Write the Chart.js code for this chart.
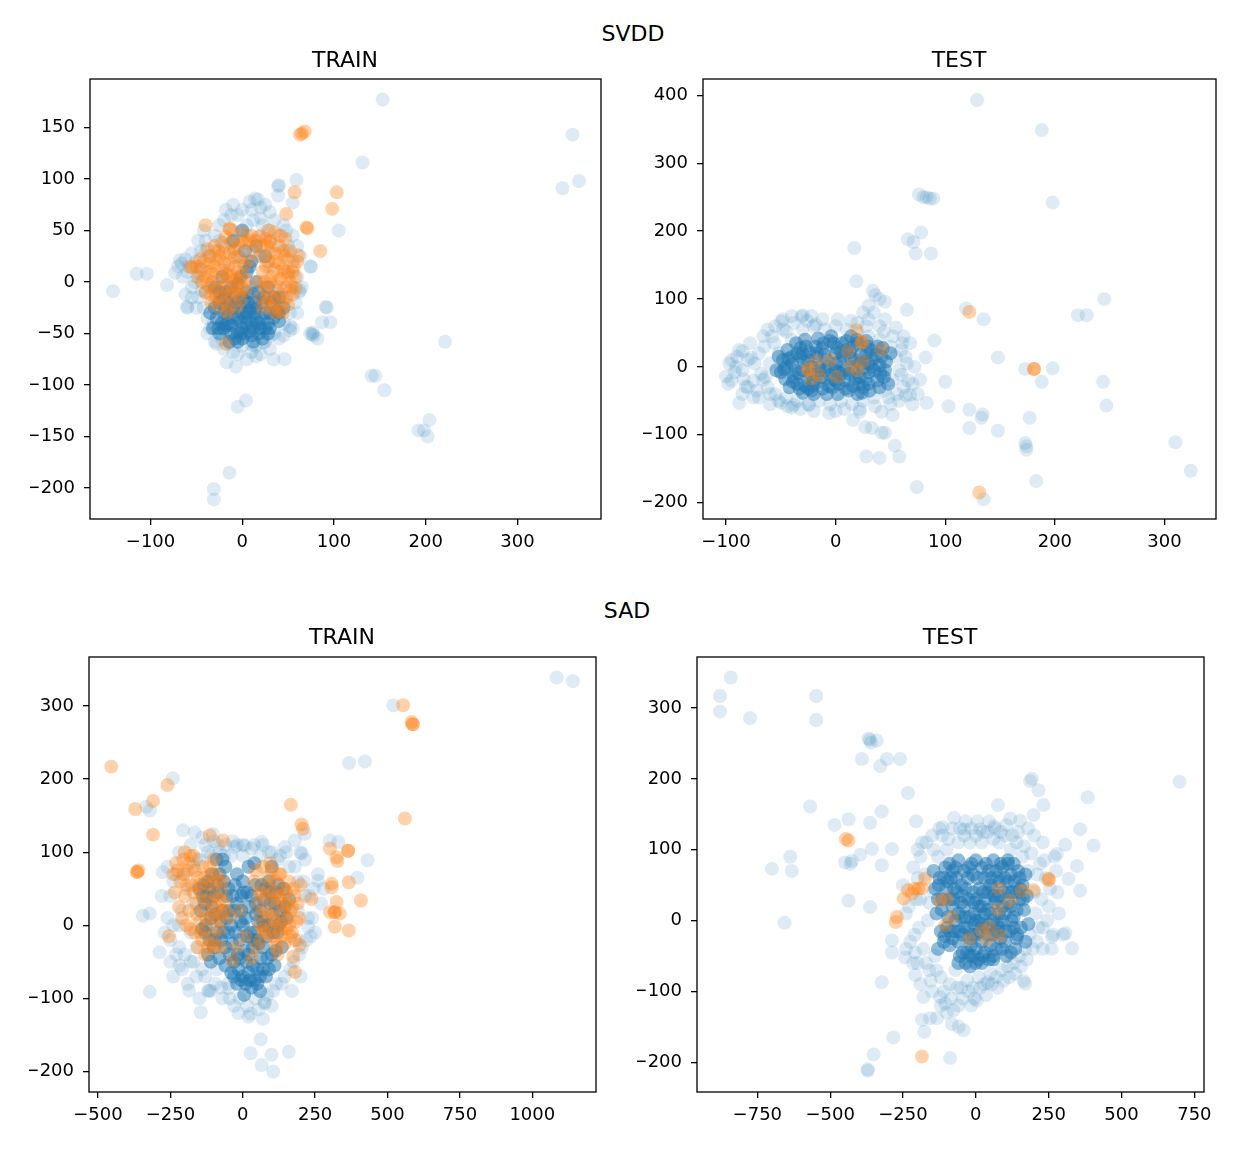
<!DOCTYPE html>
<html>
<head>
<meta charset="utf-8">
<script src="https://cdn.jsdelivr.net/npm/chart.js@4.4.1/dist/chart.umd.min.js"></script>
<style>
  body { margin: 0; background: #fff; font-family: 'DejaVu Sans', sans-serif; }
  #fig { position: relative; width: 1252px; height: 1174px; }
  .panel { position: absolute; }
  .ttl { position: absolute; font-size: 22px; line-height: 22px; color: #000; transform: translateX(-50%); white-space: nowrap; z-index: 2; }
</style>
</head>
<body>
<div id="fig">
  <div class="ttl" style="left:633px;top:23px">SVDD</div>
  <div class="ttl" style="left:345px;top:49px">TRAIN</div>
  <div class="ttl" style="left:959px;top:49px">TEST</div>
  <div class="ttl" style="left:627px;top:600px">SAD</div>
  <div class="ttl" style="left:342px;top:626px">TRAIN</div>
  <div class="ttl" style="left:950px;top:626px">TEST</div>

  <div class="panel" style="left:30px;top:59px;width:593px;height:495px"><canvas id="svddTrain"></canvas></div>
  <div class="panel" style="left:643px;top:59px;width:595px;height:495px"><canvas id="svddTest"></canvas></div>
  <div class="panel" style="left:29px;top:637px;width:589px;height:490px"><canvas id="sadTrain"></canvas></div>
  <div class="panel" style="left:637px;top:637px;width:589px;height:490px"><canvas id="sadTest"></canvas></div>
</div>
<script>
// ---- SVDD / TRAIN ----
const svddTrainXRange = [-166, 391];
const svddTrainYRange = [-230, 197];
const svddTrainXTicks = [-100, 0, 100, 200, 300];
const svddTrainYTicks = [-200, -150, -100, -50, 0, 50, 100, 150];
const svddTrainSpread = [
  [153,177],[360,143],[367,98],[349,91],[131,116],[105,50],[75,15],[92,-25],[96,-39],[87,-39],
  [74,-50],[76,-51],[78,-52],[77,-49],[82,-55],[221,-58],[141,-91],[145,-91],[155,-105],[204,-134],
  [192,-144],[198,-144],[202,-150],[4,-115],[-5,-121],[-14,-185],[-31,-201],[-31,-211],[-17,-78],[-7,-82],
  [34,-75],[46,-75],[-141,-9],[-115,8],[-104,8],[-82,-3],[-60,-25],[-73,9],[-66,18],[-10,75],
  [39,93],[59,99],[39,84],[55,77],[17,80],[52,-47],[11,-61],[23,-59],[31,-52],[-31,-40],[-20,-47],
  [40,94],[14,81],[74,15],[91,-24],[-68,21],[-70,15],[-60,-24],[52,-43],[63,-8],
  [-60,10],[-55,-5],[-50,20],[-48,-15],[-45,30],[-42,-25],[-40,40],[-38,-35],[-35,-45],[-30,45],
  [-25,55],[-22,-55],[-20,60],[-15,-60],[-10,50],[-5,65],[0,-62],[5,55],[10,70],[15,-62],
  [20,62],[25,-58],[30,50],[35,-50],[40,45],[45,-40],[48,30],[52,-30],[55,20],[58,-20],
  [60,5],[62,-10],[-52,0],[-46,8],[-44,-8],[25,75],[30,68],[8,78],[-20,35],[-35,25],
  [50,35],[45,-52],[-5,-70],[10,-68],[20,-70],[-28,-60],[0,20],[18,25],[-15,15],[30,15],
  [-30,-20],[40,-5],[-10,30],[20,45],[5,45],[-8,40],
  [-62,-12],[-58,15],[-55,28],[-50,-25],[-48,40],[-42,50],[-38,-50],[-30,-58],[-20,-65],[-10,-68],
  [0,70],[12,60],[22,55],[35,60],[45,55],[55,45],[60,35],[63,25],[65,-5],[60,-30],
  [55,-45],[40,-55],[30,-65],[15,-72],[5,-75],[-12,65],[-25,40],[-40,-10],[-45,15],[-50,5],
  [-35,-5],[-30,30],[-20,-35],[45,-15],[50,10],[52,-8],[35,35],[-5,25],[10,-5],[-55,-15],
  [-65,5],[-62,22],[-40,30],[20,72],[-18,70],[48,50]
];
const svddTrainCore = [
  [-25,-20],[-20,-30],[-15,-40],[-10,-25],[-5,-35],[0,-45],[5,-30],[10,-40],[15,-25],[20,-35],
  [25,-45],[-18,-10],[-8,-15],[2,-18],[12,-12],[22,-20],[30,-30],[-12,-50],[0,-55],[10,-52],
  [-28,-35],[35,-15],[28,-5],[-2,5],[8,15],[3,30],[-5,-2],[15,0],[-22,5],[18,-50],
  [40,-38],[-30,-5],[-5,-48],[5,-40],[-15,-30],[8,-28],[-3,-25],[20,-45],
  [-35,-30],[-32,-45],[-25,-50],[-20,-15],[-18,-42],[-10,-35],[-8,-55],[-2,-38],[3,-50],[6,-20],
  [12,-45],[14,-30],[18,-10],[25,-30],[28,-40],[32,-20],[38,-28],[45,-25],[-12,-5],[-20,-45],
  [0,-30],[10,-25],[22,-55],[-15,-20],[5,-10],[30,-45],[-25,-10],[15,-38],[-5,-58],[40,-15],
  [10,20],[15,35],[5,10],[-10,40],[25,25],[0,50],
  [-22,-40],[-12,-42],[-2,-50],[8,-48],[18,-40],[28,-50],[-30,-25],[-18,-25],[-6,-20],[4,-35],
  [14,-20],[24,-15],[34,-35],[-26,-45],[12,-58],[-14,-58],[40,-30],[0,-15]
];
const svddTrainAnom = [
  [68,146],[65,144],[63,143],[103,87],[98,71],[57,87],[48,66],[70,53],[71,52],[85,30],
  [-40,55],[-14,52],[-13,51],[-56,15],[-55,14],[-18,-60],[61,26],[58,-6],[47,42],[60,20],[55,10],
  [-45,12],[-40,5],[-38,-3],[-35,18],[-32,8],[-30,-8],[-28,22],[-26,2],[-24,-14],[-22,12],
  [-20,28],[-18,-4],[-16,6],[-14,18],[-12,-12],[-10,2],[-8,24],[-6,-6],[-4,10],[-2,-18],
  [0,4],[2,16],[-20,-20],[-34,-12],[-8,32],[-26,30],[4,-8],[-15,-25],[-36,25],
  [5,38],[10,45],[15,40],[20,35],[25,42],[12,30],[30,38],[0,40],
  [22,10],[25,-5],[28,20],[30,0],[32,-15],[35,12],[36,28],[38,-8],[40,18],[42,3],
  [44,-20],[45,30],[46,10],[48,-5],[50,22],[52,0],[33,-25],[27,-20],[40,-28],[55,-12],[20,-15],
  [-44,0],[-42,20],[-40,-10],[-36,10],[-33,0],[-30,15],[-28,-15],[-25,25],[-22,-5],[-20,18],
  [-18,8],[-16,-14],[-14,28],[-12,6],[-10,-8],[-8,15],[-6,2],[-4,-12],[-2,24],[0,-6],
  [-30,35],[-22,38],[-12,38],[-38,32],[-46,22],[-48,5],[-34,-20],[-26,-24],[-16,-30],[-6,-24],
  [4,2],[6,20],[-50,15],[-18,44],
  [24,0],[26,15],[28,-12],[30,28],[32,5],[34,-20],[36,20],[38,0],[40,35],[42,-12],
  [44,12],[46,25],[48,-15],[50,8],[52,30],[54,-5],[56,15],[36,-30],[44,-30],[50,-22],
  [30,40],[42,45],[20,25],[18,0],[58,5],[22,-25],[35,48],[28,50],
  [0,48],[8,40],[18,44],[26,36],[-4,36]
];

// ---- SVDD / TEST ----
const svddTestXRange = [-121, 347];
const svddTestYRange = [-224, 424];
const svddTestXTicks = [-100, 0, 100, 200, 300];
const svddTestYTicks = [-200, -100, 0, 100, 200, 300, 400];
const svddTestSpread = [
  [129,393],[188,349],[198,242],[76,254],[80,250],[83,250],[86,248],[89,248],[78,198],[66,188],
  [71,184],[73,167],[87,167],[17,175],[19,126],[34,112],[36,106],[45,96],[65,84],[119,86],
  [135,70],[90,39],[82,14],[148,14],[245,100],[221,76],[229,76],[173,-3],[198,-2],[188,-22],
  [244,-22],[247,-57],[100,-22],[103,-58],[122,-63],[134,-70],[133,-75],[122,-90],[148,-94],[177,-75],
  [173,-112],[174,-117],[174,-122],[183,-168],[135,-195],[74,-177],[310,-111],[324,-153],[28,-132],[40,-134],
  [54,-116],[58,-132],[27,-89],[33,-90],[42,-97],[45,-97],[16,-78],[22,-66],[42,-66],[52,-71],
  [68,-41],[83,-53],[77,-19],[61,35],[-88,-53],[-100,-14],[-91,0],[-85,23],[-77,13],[-97,5],
  [-50,-53],[-38,-56],[-24,-56],[-50,67],[-45,52],[-31,74],[-30,76],[-18,62],[-82,-29],[-66,-19],
  [-85,-5],[-80,10],[-75,-20],[-70,20],[-68,-10],[-65,30],[-62,-30],[-60,5],[-58,45],[-55,-40],
  [-52,20],[-48,55],[-45,-45],[-40,40],[-35,-50],[-30,55],[-25,-55],[-20,60],[-15,-50],[-10,55],
  [-5,-55],[0,60],[5,-50],[10,55],[15,-55],[20,50],[25,-50],[30,45],[35,-45],[40,40],
  [45,-35],[50,30],[52,-20],[55,15],[58,-5],[60,25],[62,-30],[65,5],[40,60],[30,70],
  [20,65],[-55,60],[-90,15],[-95,-20],[70,-25],[-72,-35],[50,-55],[0,-65],[-40,-60],[25,80],[48,-45],
  [-98,-25],[-95,10],[-92,-8],[-88,25],[-84,-18],[-80,-30],[-78,35],[-74,5],[-70,-45],[-66,45],
  [-64,-15],[-60,-55],[-56,35],[-52,-50],[-48,70],[-44,-58],[-38,65],[-32,-62],[-26,68],[-20,-65],
  [-12,70],[-6,-68],[2,70],[8,-62],[14,68],[22,-62],[28,60],[36,-58],[44,52],[52,45],
  [56,-40],[60,-12],[64,15],[66,-20],[68,35],[72,0],[58,-50],[64,-42],[70,-55],[75,-40],
  [62,45],[55,58],[45,70],[35,80],[30,90],[40,100],[-60,-40],[-75,-45],[-85,-40],[-62,55],
  [-40,75],[-22,75]
];
const svddTestCore = [
  [-45,0],[-40,15],[-38,-15],[-32,28],[-30,-5],[-28,-28],[-25,10],[-20,-20],[-18,30],[-15,0],
  [-12,-32],[-10,18],[-5,-12],[-2,35],[0,5],[3,-25],[5,22],[8,-5],[12,-35],[14,12],
  [16,30],[18,-18],[22,5],[25,-30],[28,20],[30,-8],[34,12],[38,-20],[40,2],[-35,-25],
  [-22,-35],[10,38],[-50,-8],[45,-5],[-8,-40],[20,-40],
  [-48,10],[-46,-18],[-44,25],[-42,-30],[-40,5],[-36,35],[-34,-10],[-32,15],[-30,-38],[-28,40],
  [-26,-15],[-24,22],[-22,0],[-20,-40],[-18,15],[-16,42],[-14,-22],[-12,28],[-10,-5],[-8,10],
  [-6,-28],[-4,45],[-2,-18],[0,20],[2,-40],[4,8],[6,35],[8,-20],[10,25],[12,-10],
  [14,45],[16,-28],[18,10],[20,35],[22,-15],[24,-38],[26,8],[28,38],[30,-25],[32,25],
  [35,-5],[38,30],[40,-30],[42,15],[44,-15],[46,8],[48,-25],[50,20],[-52,15],[-54,-5],
  [0,-5],[-15,-5],[15,0],[30,5],[-30,20],[5,-10],
  [-47,-3],[-43,12],[-39,-22],[-35,20],[-33,-32],[-29,8],[-27,30],[-23,-10],[-21,-28],[-17,20],
  [-13,-15],[-11,35],[-7,0],[-3,-30],[1,28],[3,-8],[7,15],[9,-32],[13,22],[17,-8],
  [19,40],[21,-25],[23,18],[27,-18],[29,30],[31,-35],[33,0],[37,18],[41,-10],[43,28],
  [-37,-5],[-25,-32],[-5,38],[25,-2],[0,-20]
];
const svddTestAnom = [
  [-25,-4],[-25,-4],[-22,-17],[-18,8],[-5,10],[1,-15],[-15,-12],[11,23],[19,54],[24,36],
  [24,36],[42,25],[14,1],[25,8],[20,-5],[122,81],[181,-3],[181,-3],[131,-185]
];

// ---- SAD / TRAIN ----
const sadTrainXRange = [-531, 1220];
const sadTrainYRange = [-228, 367];
const sadTrainXTicks = [-500, -250, 0, 250, 500, 750, 1000];
const sadTrainYTicks = [-200, -100, 0, 100, 200, 300];
const sadTrainSpread = [
  [1084,339],[1140,334],[520,301],[367,222],[422,224],[-241,201],[-333,162],[-321,157],[-206,130],[-166,127],
  [-103,125],[-276,73],[-345,13],[-321,16],[-287,-37],[-218,-55],[-321,-91],[-186,-89],[-116,-89],[-48,-86],
  [-145,-119],[27,-121],[70,-128],[76,-107],[62,-156],[27,-175],[65,-191],[99,-177],[105,-200],[159,-173],
  [431,89],[396,65],[301,116],[330,114],[214,125],[180,116],[203,98],[260,61],[226,-2],[65,114],
  [7,109],[-28,107],[145,107],
  [-280,40],[-260,10],[-250,-20],[-240,60],[-230,-40],[-220,100],[-210,-60],[-200,70],[-190,-80],[-180,110],
  [-170,-50],[-160,90],[-150,-100],[-140,120],[-130,-70],[-120,100],[-110,-90],[-100,115],[-90,-60],[-80,100],
  [-70,-100],[-60,110],[-50,-80],[-40,95],[-30,-110],[-20,110],[-10,-100],[0,95],[15,-110],[30,105],
  [45,-100],[60,95],[75,-105],[90,100],[105,-90],[120,90],[135,-80],[150,100],[165,-60],[180,80],
  [195,-40],[210,60],[220,-20],[230,40],[240,10],[250,-10],[260,70],[270,30],[200,100],[170,-90],
  [-240,-70],[-270,-10],[280,50],[100,-110],[-160,-30],[190,20],[-220,0],
  [-260,80],[-250,40],[-240,0],[-230,70],[-220,-30],[-210,20],[-200,-40],[-190,50],[-180,-10],[-170,80],
  [-160,-70],[-150,90],[-140,-60],[-130,110],[-120,-90],[-110,95],[-95,-80],[-85,110],[-75,-85],[-65,95],
  [-45,-100],[-35,115],[-15,-120],[0,110],[20,-125],[40,110],[55,-115],[70,110],[85,-95],[100,100],
  [115,-80],[130,95],[145,-70],[160,80],[175,-50],[190,60],[205,-30],[215,40],[225,10],[235,-15],
  [245,50],[-170,30],[-180,-50],[190,-20],[200,-70],[215,90],[-250,-50]
];
const sadTrainCore = [
  [-150,50],[-130,30],[-120,60],[-110,10],[-100,40],[-90,-10],[-80,70],[-70,20],[-60,-30],[-50,50],
  [-40,0],[-30,-50],[-20,30],[-10,-20],[0,60],[0,-70],[10,10],[20,-40],[30,40],[40,-10],
  [50,-60],[60,20],[70,-30],[80,50],[90,0],[100,-40],[110,30],[120,-10],[130,20],[140,50],
  [-60,80],[20,80],[-20,-80],[30,-85],[80,-70],[-100,-30],[150,10],[-130,-10],[5,-95],[60,-90],
  [-30,20],[15,-15],[45,15],[-5,40],[70,5],[35,-30],
  [-145,20],[-140,-5],[-135,55],[-125,40],[-115,-20],[-105,70],[-95,15],[-85,45],[-75,-20],[-65,60],
  [-55,10],[-45,-40],[-35,40],[-25,-10],[-15,-60],[-5,20],[5,-35],[15,45],[25,-10],[35,-55],
  [45,30],[55,-25],[65,55],[75,0],[85,-45],[95,30],[105,-10],[115,45],[125,0],[135,-30],
  [145,25],[-10,-45],[20,-65],[40,-75],[60,-70],[10,-80],[-40,-65],[-80,-45],[110,-55],[160,35],
  [-120,-40],[-70,90],[40,85],[100,80],[-20,70],[0,0],[50,-20],[-50,-10],[90,60],[-90,90],
  [-137,40],[-127,0],[-117,50],[-107,25],[-97,-20],[-87,55],[-77,5],[-67,-10],[-57,40],[-47,20],
  [-37,-25],[-27,55],[-17,-40],[-7,5],[3,45],[13,-50],[23,25],[33,-20],[43,55],[53,5],
  [63,-45],[73,35],[83,-15],[93,45],[103,15],[113,-35],[123,55],[133,5],[-5,-75],[25,-75],
  [50,-80],[-30,-70],[70,-60],[90,-60],[-60,-55],[-110,-50]
];
const sadTrainAnom = [
  [-454,217],[-260,192],[-310,170],[-371,159],[-310,124],[-365,73],[-365,73],[-360,75],[-255,-15],[554,301],
  [587,275],[587,275],[583,278],[560,146],[166,165],[203,138],[208,132],[301,105],[364,102],[364,102],
  [324,93],[327,88],[307,57],[307,52],[366,59],[408,34],[324,32],[301,18],[318,18],[318,18],
  [335,16],[318,-2],[366,-7],[237,36],[197,-27],[174,-43],[180,-64],[-68,116],[-114,123],
  [-240,70],[-230,85],[-215,60],[-205,90],[-200,40],[-190,75],[-185,20],[-175,55],[-170,95],[-160,30],
  [-155,65],[-150,5],[-145,45],[-140,80],[-130,20],[-125,-5],[-120,55],[-115,35],[-110,70],[-105,10],
  [-100,-15],[-95,40],[-90,25],[-85,60],[-80,-5],[-75,15],[-70,45],[-140,-20],[-165,-10],[-195,0],
  [-220,25],[-100,90],[-60,30],[-120,-30],
  [40,60],[50,30],[60,0],[65,45],[75,-10],[80,20],[90,55],[95,-5],[100,35],[105,10],
  [110,-20],[115,60],[120,25],[125,0],[130,40],[135,-15],[140,15],[145,50],[150,-5],[155,30],
  [160,0],[165,20],[170,-10],[180,40],[185,5],[100,75],[70,80],[130,70],[60,-20],
  [-45,11],[-21,-30],[48,-30],[-35,-48],[10,-15],[-10,20],[30,-45],
  [-235,45],[-225,75],[-210,10],[-205,70],[-195,55],[-185,85],[-180,-5],[-170,45],[-165,75],[-160,15],
  [-150,55],[-145,-10],[-135,35],[-130,65],[-125,10],[-115,80],[-110,-25],[-105,55],[-100,20],[-95,-30],
  [-90,70],[-85,5],[-80,35],[-75,-30],[-70,60],[-65,20],[-200,100],[-180,95],[-155,-30],[-130,-40],
  [45,75],[55,45],[60,15],[70,-5],[80,40],[85,65],[90,15],[100,-15],[105,45],[110,5],
  [115,-30],[120,40],[125,70],[130,-5],[140,30],[145,-25],[150,45],[155,10],[160,60],[165,-15],
  [170,25],[175,50],[180,-20],[190,30],[195,10],[200,55],[120,-40],[95,85]
];

// ---- SAD / TEST ----
const sadTestXRange = [-957, 783];
const sadTestYRange = [-242, 372];
const sadTestXTicks = [-750, -500, -250, 0, 250, 500, 750];
const sadTestYTicks = [-200, -100, 0, 100, 200, 300];
const sadTestSpread = [
  [-841,343],[-878,317],[-878,295],[-775,286],[-548,317],[-548,283],[-368,257],[-360,251],[-340,254],[-364,255],
  [-391,228],[-328,218],[-305,228],[-260,228],[699,196],[-233,180],[-569,161],[-485,135],[-437,143],[-363,138],
  [-323,154],[-205,140],[-288,101],[-357,101],[-397,93],[-449,82],[-426,84],[-430,80],[-323,78],[-637,90],
  [-700,73],[-632,70],[-657,-3],[-437,28],[-363,19],[-288,-28],[-288,-45],[-243,-52],[-208,-45],[-323,-87],
  [-208,-77],[-180,-108],[-185,-140],[-157,-138],[-134,-138],[-177,-157],[-283,-165],[-351,-189],[-371,-212],[-371,-210],
  [-88,-194],[-82,-146],[-59,-150],[-42,-155],[-123,-108],[-105,-117],[-77,-127],[-16,-120],[3,-113],[41,-87],
  [164,-85],[169,-89],[330,-39],[307,-18],[261,-23],[358,42],[318,59],[347,77],[404,106],[358,129],
  [384,174],[232,163],[198,149],[215,184],[186,197],[192,200],[307,107],[278,94],[118,144],[152,141],
  [76,163],[63,133],[15,129],[-39,129],[-114,132],
  [-230,20],[-210,-20],[-200,60],[-190,90],[-180,-40],[-170,110],[-165,0],[-160,-70],[-150,120],[-145,40],
  [-140,-50],[-130,90],[-120,-80],[-115,120],[-100,100],[-90,-90],[-80,130],[-70,-70],[-60,110],[-50,-95],
  [-40,120],[-30,-85],[-20,110],[-10,-95],[0,120],[10,-80],[20,110],[30,-90],[40,125],[50,-75],
  [60,115],[70,-80],[80,110],[90,-70],[100,120],[110,-65],[120,100],[130,-60],[140,110],[150,-50],
  [160,90],[170,-40],[180,70],[185,-20],[200,40],[205,10],[210,-30],[220,80],[230,-10],[240,60],
  [250,20],[260,-40],[270,90],[280,40],[-190,30],[-200,-60],[-240,-40],[-150,-100],[-120,-120],[-100,-130],
  [-60,-120],[180,130],[230,110],[300,-20],[-250,50],
  [-240,10],[-225,-30],[-215,75],[-205,30],[-195,-10],[-185,110],[-175,65],[-170,-60],[-160,25],[-155,-85],
  [-145,100],[-135,-70],[-125,130],[-110,-100],[-95,115],[-85,-110],[-75,145],[-65,-95],[-55,130],[-45,-110],
  [-35,140],[-25,-100],[-15,130],[-5,-110],[5,140],[15,-95],[25,125],[35,-105],[45,140],[55,-90],
  [65,130],[75,-95],[85,125],[95,-85],[105,135],[115,-80],[125,120],[135,-75],[145,125],[155,-65],
  [165,105],[175,-55],[190,95],[195,-40],[210,65],[215,-10],[225,30],[235,85],[245,0],[255,45],
  [265,-20],[275,70],[285,10],[-200,100],[-215,-60],[-190,-90],[200,120],[230,-40]
];
const sadTestCore = [
  [-110,60],[-90,30],[-80,70],[-70,0],[-60,-30],[-50,50],[-40,20],[-30,-10],[-20,-50],[-10,65],
  [0,30],[10,0],[20,-30],[30,60],[40,40],[50,10],[60,-20],[70,70],[80,35],[90,0],
  [100,-30],[110,55],[120,20],[130,-10],[140,40],[-100,-10],[-35,-60],[10,-55],[60,-50],[-130,30],
  [150,60],[-60,85],[0,85],[60,85],[110,85],[-20,5],[30,10],[75,-5],[-75,45],[0,-40],
  [-145,70],[-140,45],[-135,10],[-125,60],[-120,-15],[-115,30],[-105,75],[-100,45],[-95,5],[-90,-35],
  [-85,60],[-80,20],[-75,-15],[-70,75],[-65,40],[-60,10],[-55,-50],[-50,25],[-45,-20],[-40,70],
  [-35,45],[-30,-45],[-25,30],[-20,-25],[-15,80],[-10,40],[-5,-5],[0,-60],[5,60],[10,20],
  [15,-15],[20,75],[25,40],[30,-45],[35,-10],[40,15],[45,70],[50,-35],[55,45],[60,0],
  [65,25],[70,-40],[75,60],[80,10],[85,-25],[90,75],[95,40],[100,10],[105,-50],[110,25],
  [115,-15],[120,65],[125,40],[130,5],[135,-40],[140,15],[145,70],[150,30],[155,-10],[160,50],
  [165,15],[170,65],[175,35],[180,-5],[-60,-60],[-20,-65],[20,-60],[60,-55],[-110,-30],[120,-45],
  [-130,-40],[170,-30],[-5,10],[50,50],[0,0],[-40,-10],[80,-10],[110,80],
  [-127,50],[-117,15],[-108,-22],[-97,55],[-87,-15],[-77,30],[-67,60],[-57,-15],[-47,35],[-37,5],
  [-27,60],[-17,-35],[-7,25],[2,-20],[12,45],[22,-5],[32,30],[42,-20],[52,60],[62,35],
  [72,-15],[82,55],[92,20],[102,-15],[112,40],[122,0],[132,55],[142,-20],[152,45],[162,30],
  [-45,-45],[-10,-50],[25,-50],[45,-55],[-80,-25],[90,-40],[140,-25],[-25,75],[35,80],[85,80],
  [-90,80],[130,80],[-50,5],[20,20],[70,30],[100,60],[-10,-20],[45,-5]
];
const sadTestAnom = [
  [-446,115],[-437,113],[-233,43],[-220,38],[-210,45],[-197,45],[-185,46],[-248,31],[-271,5],[-275,-2],
  [-174,59],[250,59],[250,57],[158,42],[198,43],[-185,-192],[-123,28],[-100,31],[-82,5],[-105,-7],
  [78,45],[118,28],[76,16],[-22,-26],[21,-14],[47,-9],[83,-21],[38,-26]
];

const spreadColor = 'rgba(31,119,180,0.15)';
const coreColor = 'rgba(31,119,180,0.5)';
const anomColor = 'rgba(255,127,14,0.35)';

Chart.defaults.font.family = "'DejaVu Sans', sans-serif";
Chart.defaults.font.size = 18;
Chart.defaults.color = '#000';

const frame = {
  id: 'frame',
  afterDraw(chart) {
    const { ctx, chartArea: a } = chart;
    ctx.save();
    ctx.strokeStyle = '#000';
    ctx.lineWidth = 1.3;
    ctx.strokeRect(a.left, a.top, a.right - a.left, a.bottom - a.top);
    ctx.restore();
  }
};

function toXY(list) {
  return list.map(p => ({ x: p[0], y: p[1] }));
}

function fmt(v) {
  return String(v).replace('-', '\u2212');
}

function axis(range, ticks, horizontal) {
  return {
    type: 'linear',
    min: range[0],
    max: range[1],
    afterBuildTicks: (s) => { s.ticks = ticks.map(v => ({ value: v })); },
    afterFit: (s) => { if (horizontal) s.height = 35; else s.width = 60; },
    border: { display: false },
    grid: { display: true, drawOnChartArea: false, drawTicks: true, tickLength: 6, color: '#000', lineWidth: 1.3 },
    ticks: { padding: horizontal ? 7 : 9, maxRotation: 0, autoSkip: false, callback: (v) => fmt(v) }
  };
}

function drawPanel(id, spread, core, anom, xRange, yRange, xTicks, yTicks) {
  const pt = { pointRadius: 7, pointHoverRadius: 7, pointBorderWidth: 0 };
  new Chart(document.getElementById(id), {
    type: 'scatter',
    data: {
      datasets: [
        Object.assign({ data: toXY(anom), backgroundColor: anomColor, order: 0 }, pt),
        Object.assign({ data: toXY(core), backgroundColor: coreColor, order: 1 }, pt),
        Object.assign({ data: toXY(spread), backgroundColor: spreadColor, order: 2 }, pt)
      ]
    },
    options: {
      responsive: true,
      maintainAspectRatio: false,
      animation: false,
      events: [],
      layout: { padding: { left: 0, top: 20, right: 22, bottom: 0 } },
      scales: {
        x: axis(xRange, xTicks, true),
        y: axis(yRange, yTicks, false)
      },
      plugins: { legend: { display: false }, tooltip: { enabled: false }, title: { display: false } }
    },
    plugins: [frame]
  });
}

drawPanel('svddTrain', svddTrainSpread, svddTrainCore, svddTrainAnom, svddTrainXRange, svddTrainYRange, svddTrainXTicks, svddTrainYTicks);
drawPanel('svddTest', svddTestSpread, svddTestCore, svddTestAnom, svddTestXRange, svddTestYRange, svddTestXTicks, svddTestYTicks);
drawPanel('sadTrain', sadTrainSpread, sadTrainCore, sadTrainAnom, sadTrainXRange, sadTrainYRange, sadTrainXTicks, sadTrainYTicks);
drawPanel('sadTest', sadTestSpread, sadTestCore, sadTestAnom, sadTestXRange, sadTestYRange, sadTestXTicks, sadTestYTicks);
</script>
</body>
</html>
